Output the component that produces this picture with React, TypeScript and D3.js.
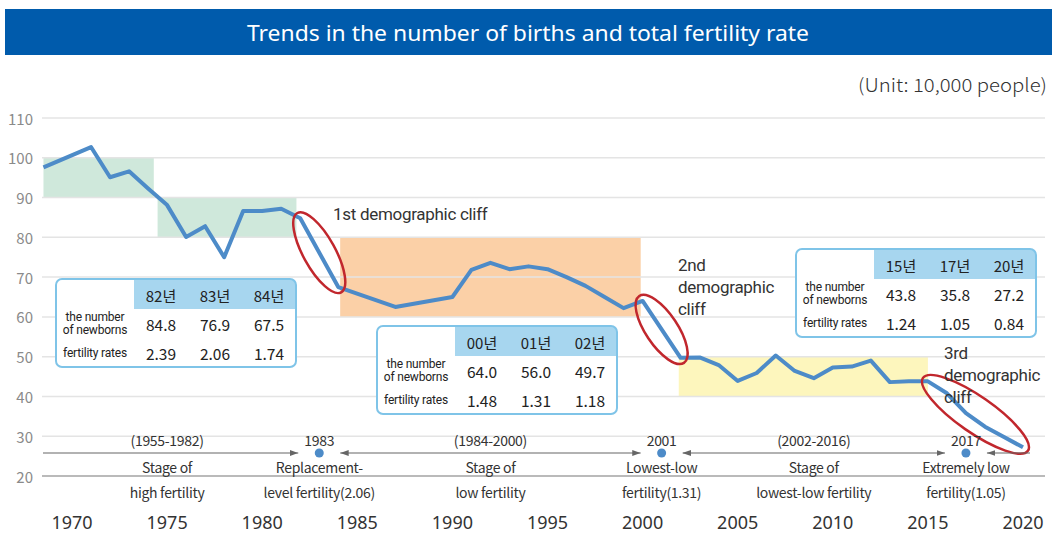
import React from 'react';
import * as d3 from 'd3';

// births (10,000 people)
const years = [1968.5, 1971, 1972, 1973, 1974, 1975, 1976, 1977, 1978, 1979, 1980, 1981, 1982, 1984,
  1987, 1990, 1991, 1992, 1993, 1994, 1995, 1996, 1997, 1998, 1999, 2000, 2002,
  2003, 2004, 2005, 2006, 2007, 2008, 2009, 2010, 2011, 2012, 2013, 2014, 2015, 2016, 2017, 2018, 2019, 2020];
const births = [97.6, 102.7, 95.1, 96.6, 92.3, 88.1, 80.1, 82.8, 75.0, 86.6, 86.6, 87.2, 84.8, 67.5,
  62.5, 65.0, 71.8, 73.6, 72.0, 72.7, 72.0, 70.0, 67.8, 65.0, 62.2, 64.0, 49.7,
  49.8, 47.9, 43.9, 45.9, 50.3, 46.4, 44.6, 47.3, 47.5, 49.0, 43.6, 43.8, 43.8, 40.8, 35.8, 32.4, 29.8, 27.2];

const yTicks = [20, 30, 40, 50, 60, 70, 80, 90, 100, 110];
const xTicks = [1970, 1975, 1980, 1985, 1990, 1995, 2000, 2005, 2010, 2015, 2020];

// shaded stage bands: [yearFrom, yearTo, low, high]
const bands: [number, number, number, number][] = [
  [1968.5, 1974.3, 90, 100],
  [1974.5, 1981.8, 80, 90],
  [1984.1, 1999.9, 60, 80],
  [2001.9, 2015.0, 40, 50],
];
const bandColors = ['#cfe8db', '#cfe8db', '#fbd0a7', '#fdf6bd'];

// demographic cliffs (start year, end year)
const cliffs: [number, number][] = [[1982, 1984], [2000, 2002], [2015, 2020]];
const cliffLabels = [['1st demographic cliff'], ['2nd', 'demographic', 'cliff'], ['3rd', 'demographic', 'cliff']];

// stages along the bottom
const stageYears = [1975, 1992, 2009];
const stageRanges = ['(1955-1982)', '(1984-2000)', '(2002-2016)'];
const stageLine1 = ['Stage of', 'Stage of', 'Stage of'];
const stageLine2 = ['high fertility', 'low fertility', 'lowest-low fertility'];
const milestoneYears = [1983, 2001, 2017];
const milestoneLine1 = ['Replacement-', 'Lowest-low', 'Extremely low'];
const milestoneLine2 = ['level fertility(2.06)', 'fertility(1.31)', 'fertility(1.05)'];

// tables
const tableHeads = [['82년', '83년', '84년'], ['00년', '01년', '02년'], ['15년', '17년', '20년']];
const tableBorns = [['84.8', '76.9', '67.5'], ['64.0', '56.0', '49.7'], ['43.8', '35.8', '27.2']];
const tableRates = [['2.39', '2.06', '1.74'], ['1.48', '1.31', '1.18'], ['1.24', '1.05', '0.84']];

const W = 1057;
const H = 535;
const font = '"Noto Sans CJK KR", "Noto Sans", sans-serif';
const latin = 'Roboto, "Noto Sans", sans-serif';
const lineBlue = '#4d8bc8';
const tableBlue = '#7fc4e8';

const x = d3.scaleLinear().domain([1970, 2020]).range([72, 1023]);
const y = d3.scaleLinear().domain([20, 110]).range([476, 118]);

const line = d3.line<number>()
  .x((d, i) => x(years[i]))
  .y(d => y(d));

function DataTable({ x0, y0, idx }: { x0: number; y0: number; idx: number }) {
  const cols = [78, 54, 54, 54];
  const rows = [30, 29, 29];
  const cx = d3.cumsum([x0, ...cols]);
  const cy = d3.cumsum([y0, ...rows]);
  const w = d3.sum(cols);
  const h = d3.sum(rows);
  const clip = `tclip${idx}`;
  const mid = (a: number[], i: number) => (a[i] + a[i + 1]) / 2;
  return (
    <g>
      <defs>
        <clipPath id={clip}>
          <rect x={x0} y={y0} width={w} height={h} rx={6} />
        </clipPath>
      </defs>
      <rect x={x0} y={y0} width={w} height={h} rx={6} fill="#fff" />
      <rect x={cx[1]} y={y0} width={w - cols[0]} height={rows[0]} fill="#a7d6ef" clipPath={`url(#${clip})`} />
      {cx.slice(1, 4).map((v, i) => (
        <line key={'c' + i} x1={v} x2={v} y1={y0} y2={y0 + h} stroke={tableBlue} strokeWidth={1.5} />
      ))}
      {cy.slice(1, 3).map((v, i) => (
        <line key={'r' + i} x1={x0} x2={x0 + w} y1={v} y2={v} stroke={tableBlue} strokeWidth={1.5} />
      ))}
      <rect x={x0} y={y0} width={w} height={h} rx={6} fill="none" stroke={tableBlue} strokeWidth={2} />
      <g fontFamily={font} fill="#222" textAnchor="middle" dominantBaseline="central">
        {tableHeads[idx].map((t, i) => (
          <text key={'h' + i} x={mid(cx, i + 1)} y={mid(cy, 0) + 1} fontSize={15}>{t}</text>
        ))}
        {tableBorns[idx].map((t, i) => (
          <text key={'b' + i} x={mid(cx, i + 1)} y={mid(cy, 1)} fontSize={15.5}>{t}</text>
        ))}
        {tableRates[idx].map((t, i) => (
          <text key={'f' + i} x={mid(cx, i + 1)} y={mid(cy, 2)} fontSize={15.5}>{t}</text>
        ))}
        <g fontSize={12} fontFamily={latin} letterSpacing={-0.2}>
          <text x={mid(cx, 0)} y={mid(cy, 1) - 6.5}>the number</text>
          <text x={mid(cx, 0)} y={mid(cy, 1) + 6.5}>of newborns</text>
          <text x={mid(cx, 0)} y={mid(cy, 2)}>fertility rates</text>
        </g>
      </g>
    </g>
  );
}

export default function App() {
  const arrowY = 453;
  const gap = 21;
  const dotsX = milestoneYears.map(v => x(v));
  // arrow segments between milestone dots
  const arrows: [number, number, boolean, boolean][] = [
    [43, dotsX[0] - gap, false, true],
    [dotsX[0] + gap, dotsX[1] - gap, true, true],
    [dotsX[1] + gap, dotsX[2] - gap, true, true],
    [dotsX[2] + gap, 1030, true, false],
  ];
  const cliffLabelPos = [[333, 220], [678, 271], [944, 359]];

  return (
    <svg width={W} height={H} style={{ position: 'absolute', left: 0, top: 0, background: '#fff' }}>
      <defs>
        <marker id="headR" viewBox="0 0 10 10" refX={10} refY={5} markerWidth={7} markerHeight={7} orient="auto">
          <path d="M0,1.5 L10,5 L0,8.5 Z" fill="#666" />
        </marker>
        <marker id="headL" viewBox="0 0 10 10" refX={0} refY={5} markerWidth={7} markerHeight={7} orient="auto">
          <path d="M10,1.5 L0,5 L10,8.5 Z" fill="#666" />
        </marker>
      </defs>

      {/* title bar */}
      <rect x={5} y={9} width={1047} height={46} fill="#005bac" />
      <text x={528} y={33} fill="#fff" fontFamily='"Noto Sans", sans-serif' fontSize={21}
        textAnchor="middle" dominantBaseline="central" textLength={562} lengthAdjust="spacingAndGlyphs">
        Trends in the number of births and total fertility rate
      </text>
      <text x={1047} y={84} fill="#333" fontFamily={font} fontSize={18.5} fontWeight={300} textAnchor="end"
        dominantBaseline="central" textLength={189} lengthAdjust="spacingAndGlyphs">
        (Unit: 10,000 people)
      </text>

      {/* bands */}
      {bands.map((b, i) => (
        <rect key={i} x={x(b[0])} y={y(b[3])} width={x(b[1]) - x(b[0])} height={y(b[2]) - y(b[3])} fill={bandColors[i]} />
      ))}

      {/* grid */}
      {yTicks.map(t => (
        <g key={t}>
          <line x1={42} x2={1045} y1={y(t)} y2={y(t)} stroke={t === 20 ? '#777' : '#e4e4e4'} strokeWidth={t === 20 ? 1.2 : 1.5} />
          <text x={33} y={y(t)} textAnchor="end" dominantBaseline="central" fontFamily={font} fontSize={15} fill="#8a8a8a">{t}</text>
        </g>
      ))}

      {/* x tick labels */}
      {xTicks.map(t => (
        <text key={t} x={x(t)} y={529} textAnchor="middle" fontFamily='"Noto Sans", sans-serif' fontSize={18} fill="#333">{t}</text>
      ))}

      {/* births line */}
      <path d={line(births) || ''} fill="none" stroke={lineBlue} strokeWidth={4} strokeLinejoin="round" />

      {/* cliff ellipses */}
      {cliffs.map(([a, b], i) => {
        const x1 = x(a), y1 = y(births[years.indexOf(a)]);
        const x2 = x(b), y2 = y(births[years.indexOf(b)]);
        const len = Math.hypot(x2 - x1, y2 - y1);
        const ang = Math.atan2(y2 - y1, x2 - x1) * 180 / Math.PI;
        return (
          <ellipse key={i} cx={(x1 + x2) / 2} cy={(y1 + y2) / 2} rx={len / 2 + 6} ry={i === 2 ? 18 : 16}
            transform={`rotate(${ang} ${(x1 + x2) / 2} ${(y1 + y2) / 2})`}
            fill="none" stroke="#c1272d" strokeWidth={2.5} />
        );
      })}

      {/* cliff labels */}
      {cliffLabels.map((lines, i) => (
        <text key={i} fontFamily={latin} fontSize={17} fill="#333" letterSpacing={-0.3}>
          {lines.map((l, j) => (
            <tspan key={j} x={cliffLabelPos[i][0]} y={cliffLabelPos[i][1] + j * 22}>{l}</tspan>
          ))}
        </text>
      ))}

      {/* tables */}
      <DataTable x0={56} y0={279} idx={0} />
      <DataTable x0={377} y0={326} idx={1} />
      <DataTable x0={796} y0={249} idx={2} />

      {/* stage arrows */}
      {arrows.map(([a, b, l, r], i) => (
        <line key={i} x1={a} x2={b} y1={arrowY} y2={arrowY} stroke="#666" strokeWidth={1.2}
          markerStart={l ? 'url(#headL)' : undefined} markerEnd={r ? 'url(#headR)' : undefined} />
      ))}
      {dotsX.map((v, i) => (
        <circle key={i} cx={v} cy={arrowY} r={4.5} fill={lineBlue} />
      ))}

      <g fontFamily={font} fontSize={14} fill="#333" textAnchor="middle" dominantBaseline="central" letterSpacing={-0.3}>
        {stageYears.map((s, i) => (
          <g key={'s' + i}>
            <text x={x(s)} y={440}>{stageRanges[i]}</text>
            <text x={x(s)} y={467}>{stageLine1[i]}</text>
            <text x={x(s)} y={492}>{stageLine2[i]}</text>
          </g>
        ))}
        {milestoneYears.map((m, i) => (
          <g key={'m' + i}>
            <text x={x(m)} y={440}>{m}</text>
            <text x={x(m)} y={467}>{milestoneLine1[i]}</text>
            <text x={x(m)} y={492}>{milestoneLine2[i]}</text>
          </g>
        ))}
      </g>
    </svg>
  );
}
